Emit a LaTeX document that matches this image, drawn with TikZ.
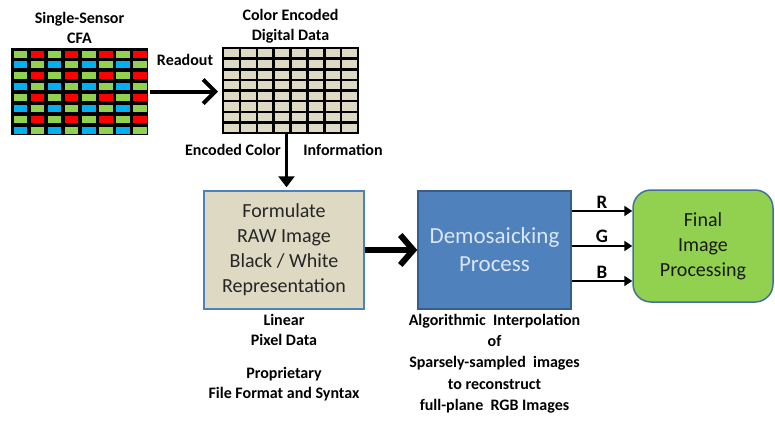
\documentclass[tikz,border=0pt]{standalone}
\usepackage{fontspec}
\setmainfont{Carlito}
\usepackage{tikz}
\usetikzlibrary{positioning, arrows.meta}
\definecolor{cfagreen}{HTML}{92D050}
\definecolor{cfared}{HTML}{FF0000}
\definecolor{cfablue}{HTML}{00B0F0}
\definecolor{rawtan}{HTML}{DDD9C3}
\definecolor{demoblue}{HTML}{4F81BD}
\definecolor{demoedge}{HTML}{385D8A}
\definecolor{finaledge}{HTML}{41719C}
\definecolor{demotext}{HTML}{DCE6F2}
\tikzstyle{block} = [rectangle, line width=1.5pt, align=center, inner sep=0pt]
\tikzstyle{note} = [font=\fontsize{16}{20}\selectfont\bfseries, align=center, inner sep=1pt]
\tikzstyle{fatarrow} = [line width=4pt, -{Straight Barb[length=12pt, width=24pt]}]
\tikzstyle{downarrow} = [line width=3pt, -{Triangle[length=11pt, width=16pt]}]
\tikzstyle{rgbarrow} = [line width=2pt, -{Triangle[length=8pt, width=10pt]}]

\begin{document}
\begin{tikzpicture}[x=1pt, y=-1pt]
        \useasboundingbox (0,0) rectangle (775,421);

        % sensor and data grids
        \node [fill=black, minimum width=137pt, minimum height=87pt, inner sep=0pt] (cfa) at (79.5,91.5) {};
        \foreach \r in {0,...,7}
          \foreach \c in {0,...,7} {
            \pgfmathtruncatemacro\k{mod(\r,2)*2+mod(\c,2)}
            \ifcase\k \def\cc{cfagreen}\or\def\cc{cfared}\or\def\cc{cfablue}\else\def\cc{cfagreen}\fi
            \fill [\cc] (11+\c*17.125+2.5, 48+\r*10.875+2.5) rectangle (11+\c*17.125+16, 48+\r*10.875+9.5);
          }
        \node [fill=rawtan, draw=black, line width=2pt, minimum width=135pt, minimum height=85pt, inner sep=0pt] (data) at (290.5,90.5) {};
        \foreach \i in {1,...,7} {
          \draw [line width=2.5pt] (223+\i*16.875, 48) -- (223+\i*16.875, 133);
          \draw [line width=2.5pt] (223, 48+\i*10.625) -- (358, 48+\i*10.625);
        }

        % blocks
        \node [block, draw=demoblue, fill=rawtan, text=black!85, minimum width=160pt, minimum height=118pt,
               font=\fontsize{20}{25}\selectfont] (raw) at (284,250) {Formulate\\RAW Image\\Black / White\\Representation};
        \node [block, draw=demoedge, fill=demoblue, text=demotext, minimum width=153pt, minimum height=118pt,
               font=\fontsize{23}{28}\selectfont] (demo) at (494.5,250) {Demosaicking\\Process};
        \node [block, draw=finaledge, fill=cfagreen, text=black!90, rounded corners=18pt, minimum width=140pt, minimum height=112pt,
               font=\fontsize{20}{25}\selectfont] (final) at (703,246) {Final\\Image\\Processing};

        % labels
        \node [note, above=3pt of cfa] (cfatitle) {Single-Sensor\\CFA};
        \node [note, above=3pt of data] (datatitle) {Color Encoded\\Digital Data};
        \node [note] (readout) at (185,60) {Readout};
        \node [note] (enccolor) at (233,150) {Encoded Color};
        \node [note] (encinfo) at (343,150) {Information};
        \node [note, below=3pt of raw] (linear) {Linear\\Pixel Data};
        \node [note, below=20pt of linear] (propr) {Proprietary\\File Format and Syntax};
        \node [note, below=3pt of demo, font=\fontsize{16}{21.3}\selectfont\bfseries] (algo)
              {Algorithmic~ Interpolation\\of\\Sparsely-sampled~ images\\to reconstruct\\full-plane~ RGB Images};

        % arrows
        \draw [fatarrow, shorten <=2pt, shorten >=4pt] (cfa.east) -- (data.west |- cfa.east);
        \draw [downarrow, shorten >=3pt] ([xshift=-4pt]data.south) -- ([xshift=-4pt]data.south |- raw.north);
        \draw [fatarrow, line width=6pt, -{Straight Barb[length=13pt, width=30pt]}] (raw.east) -- (demo.west);
        \foreach \ch/\dy in {R/35, G/0, B/-35} {
          \coordinate (in\ch) at ([yshift=\dy pt]final.west);
          \draw [rgbarrow] (demo.east |- in\ch) -- node [note, above=1pt, font=\fontsize{19}{22}\selectfont\bfseries] (lbl\ch) {\ch} (in\ch);
        }
    \end{tikzpicture}
\end{document}
